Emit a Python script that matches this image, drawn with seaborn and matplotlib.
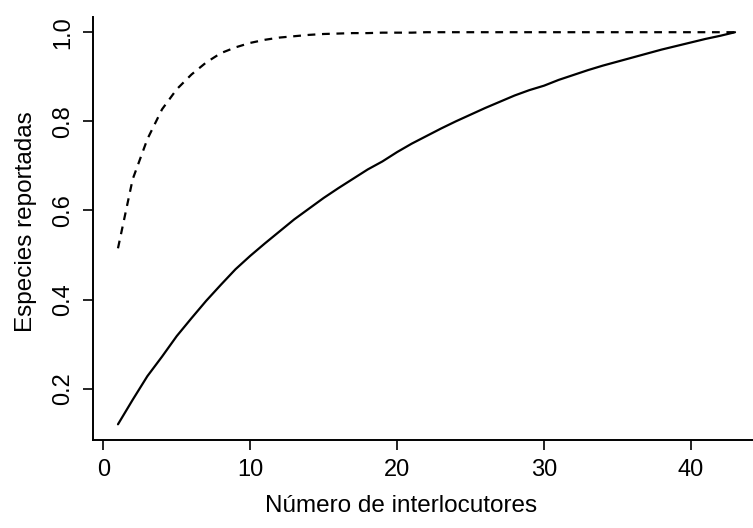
import numpy as np
import pandas as pd
import seaborn as sns
import matplotlib.pyplot as plt

# numero de interlocutores
interlocutores = list(range(1, 44))

# curva observada (linea continua)
observada = [0.120, 0.175, 0.228, 0.272, 0.318, 0.358, 0.397, 0.433, 0.468, 0.498,
             0.526, 0.553, 0.580, 0.604, 0.628, 0.650, 0.671, 0.692, 0.710, 0.731,
             0.750, 0.767, 0.784, 0.800, 0.815, 0.830, 0.844, 0.858, 0.870, 0.880,
             0.893, 0.904, 0.915, 0.925, 0.934, 0.943, 0.952, 0.961, 0.969, 0.977,
             0.985, 0.992, 1.000]

# curva esperada (linea discontinua)
esperada = [0.515, 0.670, 0.760, 0.827, 0.872, 0.905, 0.932, 0.953, 0.966, 0.976,
            0.983, 0.988, 0.991, 0.994, 0.996, 0.997, 0.998, 0.998, 0.999, 0.999,
            0.999, 1.000, 1.000, 1.000, 1.000, 1.000, 1.000, 1.000, 1.000, 1.000,
            1.000, 1.000, 1.000, 1.000, 1.000, 1.000, 1.000, 1.000, 1.000, 1.000,
            1.000, 1.000, 1.000]

df = pd.DataFrame({'interlocutores': interlocutores,
                   'observada': observada,
                   'esperada': esperada})

sns.set_style("ticks")
plt.rcParams['font.family'] = ['Liberation Sans', 'DejaVu Sans']
plt.rcParams['text.color'] = 'black'
plt.rcParams['axes.labelcolor'] = 'black'
plt.rcParams['xtick.color'] = 'black'
plt.rcParams['ytick.color'] = 'black'

fig = plt.figure(figsize=(7.53, 5.28), dpi=100)
ax = fig.add_axes([0.1239, 0.1667, 0.885, 0.802])

sns.lineplot(data=df, x='interlocutores', y='observada', ax=ax,
             color='black', linewidth=1.6)
sns.lineplot(data=df, x='interlocutores', y='esperada', ax=ax,
             color='black', linewidth=1.6, linestyle=(0, (3.5, 3)))

ax.set_xlim(-0.68, 44.68)
ax.set_ylim(0.0848, 1.0352)
ax.set_xticks([0, 10, 20, 30, 40])
ax.set_yticks([0.2, 0.4, 0.6, 0.8, 1.0])
ax.set_yticklabels(['0.2', '0.4', '0.6', '0.8', '1.0'], rotation=90, va='center')
ax.tick_params(axis='both', direction='out', length=7, width=1.2,
               color='black', labelcolor='black', labelsize=17, pad=7)

for s in ['top', 'right']:
    ax.spines[s].set_visible(False)
for s in ['left', 'bottom']:
    ax.spines[s].set_color('black')
    ax.spines[s].set_linewidth(1.4)

ax.set_xlabel('Número de interlocutores', fontsize=17.5, color='black')
ax.set_ylabel('Especies reportadas', fontsize=17.5, color='black')
ax.xaxis.set_label_coords(0.462, -0.129)
ax.yaxis.set_label_coords(-0.084, 0.515)

fig.savefig('out.png', dpi=100)
